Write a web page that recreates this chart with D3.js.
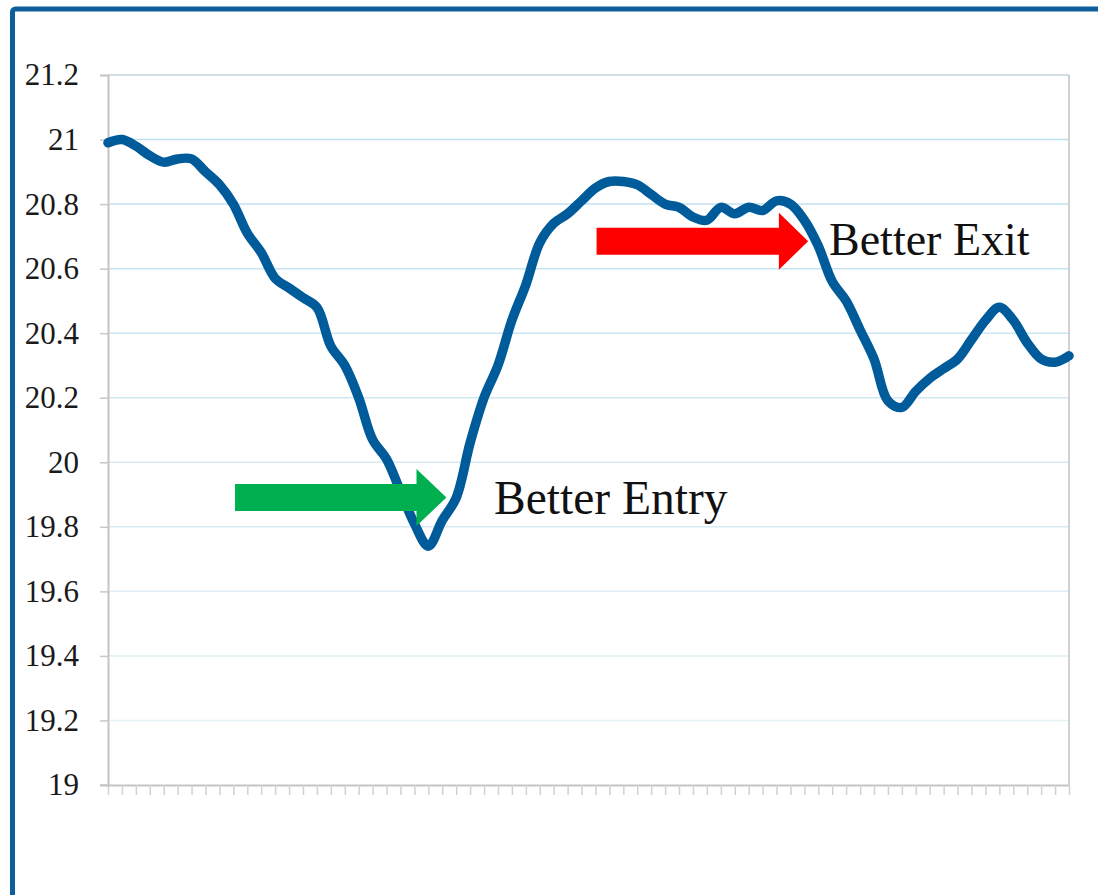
<!DOCTYPE html>
<html>
<head>
<meta charset="utf-8">
<script src="https://cdn.jsdelivr.net/npm/d3@7"></script>
<style>
  html, body { margin: 0; padding: 0; background: #fff; }
  svg { display: block; }
</style>
</head>
<body>
<div id="chart"></div>
<script>
// series values, one per period (70 periods, no labels on the x axis)
const periods = d3.range(70);
const values = [
  20.99, 21.00, 20.98, 20.95, 20.93, 20.94, 20.94, 20.90, 20.86, 20.80,
  20.71, 20.65, 20.57, 20.54, 20.51, 20.48, 20.36, 20.30, 20.20, 20.07,
  20.01, 19.91, 19.81, 19.74, 19.82, 19.89, 20.06, 20.20, 20.30, 20.44,
  20.55, 20.68, 20.74, 20.77, 20.81, 20.85, 20.87, 20.87, 20.86, 20.83,
  20.80, 20.79, 20.76, 20.75, 20.79, 20.77, 20.79, 20.78, 20.81, 20.80,
  20.75, 20.67, 20.56, 20.50, 20.41, 20.32, 20.19, 20.17, 20.22, 20.26,
  20.29, 20.32, 20.38, 20.44, 20.48, 20.44, 20.37, 20.32, 20.31, 20.33
];
const yTicks = [19, 19.2, 19.4, 19.6, 19.8, 20, 20.2, 20.4, 20.6, 20.8, 21, 21.2];
const yTickLabels = ["19", "19.2", "19.4", "19.6", "19.8", "20", "20.2", "20.4", "20.6", "20.8", "21", "21.2"];

// annotation arrows: start, head base and tip in period units, level in value units
const arrowNames = ["Better Entry", "Better Exit"];
const arrowStart = [9.12, 35.08];
const arrowHeadBase = [22.15, 48.17];
const arrowTip = [24.3, 50.27];
const arrowLevel = [19.891, 20.685];
const arrowColors = ["#00b050", "#ff0000"];

const width = 1098, height = 895;
const margin = {left: 108, top: 75, right: 29, bottom: 110};
const serif = "'Liberation Serif', 'DejaVu Serif', serif";

const svg = d3.select("#chart").append("svg")
  .attr("width", width)
  .attr("height", height);

// blue frame around the slide
svg.append("rect")
  .attr("x", 12.5).attr("y", 9)
  .attr("width", width + 20).attr("height", height + 20)
  .attr("rx", 3)
  .attr("fill", "none")
  .attr("stroke", "#0d5e9b")
  .attr("stroke-width", 5);

const x = d3.scaleLinear()
  .domain([0, periods.length - 1])
  .range([margin.left, width - margin.right]);

const y = d3.scaleLinear()
  .domain([19, 21.2])
  .range([height - margin.bottom, margin.top]);

const gridColor = d3.scaleLinear()
  .domain([19, 21.2])
  .range(["#eaf3f7", "#b9def0"]);

// gridlines
svg.append("g")
  .selectAll("line")
  .data(yTicks.filter(d => d > 19))
  .enter()
  .append("line")
    .attr("x1", margin.left)
    .attr("x2", width - margin.right)
    .attr("y1", d => y(d))
    .attr("y2", d => y(d))
    .attr("stroke", d => d === 21.2 ? "#c4d3dc" : gridColor(d))
    .attr("stroke-width", 1.5);

// right edge of plot area
svg.append("line")
  .attr("x1", width - margin.right).attr("x2", width - margin.right)
  .attr("y1", margin.top).attr("y2", y(19))
  .attr("stroke", "#d0d0d0")
  .attr("stroke-width", 2);

const yAxis = g => g
  .attr("transform", `translate(${margin.left},0)`)
  .call(d3.axisLeft(y)
    .tickValues(yTicks)
    .tickFormat((d, i) => yTickLabels[i])
    .tickSize(8)
    .tickPadding(21))
  .call(g => g.select(".domain").attr("stroke", "#c4c4c4").attr("stroke-width", 2))
  .call(g => g.selectAll(".tick line").attr("stroke", "#c8c8c8").attr("stroke-width", 1.5))
  .call(g => g.selectAll(".tick text")
    .attr("fill", "#1a1a1a")
    .style("font-family", serif)
    .style("font-size", "31px"));

const xAxis = g => g
  .attr("transform", `translate(0,${y(19)})`)
  .call(d3.axisBottom(x)
    .tickValues(periods)
    .tickFormat("")
    .tickSize(10)
    .tickSizeOuter(0))
  .call(g => g.select(".domain").attr("stroke", "#c4c4c4").attr("stroke-width", 2))
  .call(g => g.selectAll(".tick line").attr("stroke", "#d2d2d2").attr("stroke-width", 1.5));

svg.append("g").call(xAxis);
svg.append("g").call(yAxis);

// bottom axis extends a little left, under the y labels' tick
svg.append("line")
  .attr("x1", margin.left - 8).attr("x2", margin.left)
  .attr("y1", y(19)).attr("y2", y(19))
  .attr("stroke", "#c8c8c8").attr("stroke-width", 1.5);

// smoothed series line
const line = d3.line()
  .x((d, i) => x(i))
  .y(d => y(d))
  .curve(d3.curveCatmullRom.alpha(0.5));

svg.append("path")
  .datum(values)
  .attr("fill", "none")
  .attr("stroke", "#005b9b")
  .attr("stroke-width", 9.5)
  .attr("stroke-linejoin", "round")
  .attr("stroke-linecap", "round")
  .attr("d", line);

// block arrows and their labels
const bodyHalf = 13.5, headHalf = 28.5;
arrowNames.forEach((name, i) => {
  const x0 = x(arrowStart[i]), xb = x(arrowHeadBase[i]), xt = x(arrowTip[i]);
  const yc = y(arrowLevel[i]);
  const pts = [
    [x0, yc - bodyHalf], [xb, yc - bodyHalf], [xb, yc - headHalf],
    [xt, yc], [xb, yc + headHalf], [xb, yc + bodyHalf], [x0, yc + bodyHalf]
  ];
  svg.append("path")
    .attr("d", "M" + pts.map(p => p.join(",")).join("L") + "Z")
    .attr("fill", arrowColors[i]);
});

svg.append("text")
  .attr("x", 494).attr("y", 514)
  .style("font-family", serif)
  .style("font-size", "47.5px")
  .attr("fill", "#111")
  .text(arrowNames[0]);

svg.append("text")
  .attr("x", 829).attr("y", 255)
  .style("font-family", serif)
  .style("font-size", "46px")
  .attr("fill", "#111")
  .text(arrowNames[1]);
</script>
</body>
</html>
